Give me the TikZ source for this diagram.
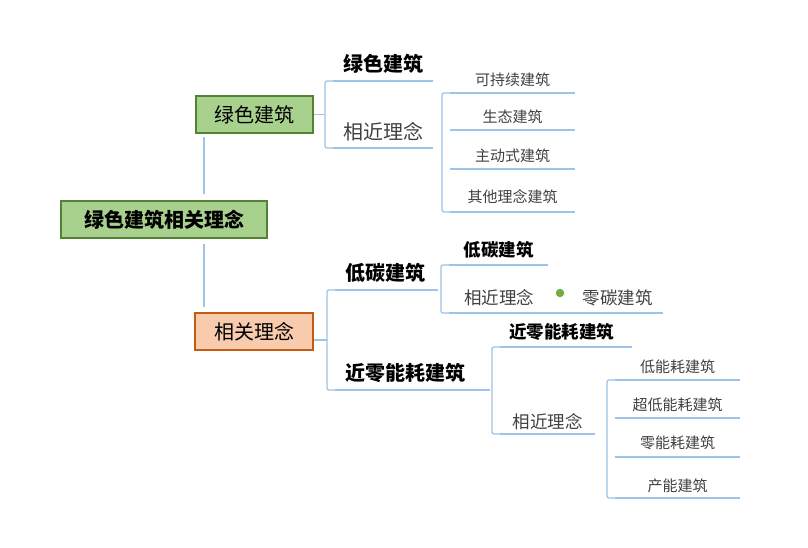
\documentclass[tikz,border=0pt]{standalone}
\usepackage{fontspec}
\setmainfont{Noto Sans CJK SC}
\usetikzlibrary{calc,positioning}
\definecolor{lsfill}{HTML}{A9D18E}
\definecolor{lsdraw}{HTML}{548235}
\definecolor{xgfill}{HTML}{F8CBAD}
\definecolor{xgdraw}{HTML}{C55A11}
\definecolor{lnblue}{HTML}{9DC3E6}
\definecolor{dotgreen}{HTML}{70AD47}
\definecolor{txtgray}{HTML}{404040}

\begin{document}
\begin{tikzpicture}[x=1pt, y=-1pt, conn/.style={draw=lnblue, line width=1.3pt}, box/.style={line width=2pt, inner sep=0pt, minimum height=37pt}]
\tikzstyle{tp}=[anchor=south west, inner sep=0pt, text=txtgray]
\tikzstyle{big}=[tp, text=black, font=\bfseries\fontsize{20}{24}\selectfont, minimum height=34pt]
\tikzstyle{mid}=[tp, font=\fontsize{20}{24}\selectfont, minimum height=32pt]
\tikzstyle{sub}=[tp, text=black, font=\bfseries\fontsize{17.5}{21}\selectfont, minimum height=30pt]
\tikzstyle{subn}=[tp, font=\fontsize{17.5}{21}\selectfont, minimum height=30pt]
\tikzstyle{leaf}=[tp, font=\fontsize{15}{18}\selectfont, minimum width=125pt, minimum height=26pt]
\useasboundingbox (0,0) rectangle (808,548);
% main boxes
\node[box, fill=lsfill, draw=lsdraw, minimum width=206pt, font=\bfseries\fontsize{20}{24}\selectfont] (root) at (164,219.5) {绿色建筑相关理念};
\node[box, fill=lsfill, draw=lsdraw, minimum width=117pt, font=\fontsize{20}{24}\selectfont] (lsjz) at (254.5,114.5) {绿色建筑};
\node[box, fill=xgfill, draw=xgdraw, minimum width=118pt, font=\fontsize{20}{24}\selectfont] (xglb) at (254,331.5) {相关理念};
% upper branch
\node[big, minimum width=100pt] (lsg) at (333,81) {绿色建筑};
\node[mid, minimum width=100pt] (xj1) at (333,148) {相近理念};
\node[leaf] (kcx) at (450,93) {可持续建筑};
\node[leaf] (stj) at (450,130) {生态建筑};
\node[leaf] (zds) at (450,169) {主动式建筑};
\node[leaf, minimum height=30pt] (qtl) at (450,212) {其他理念建筑};
% lower branch
\node[big, text width=83pt, inner xsep=10pt, align=left] (ldt) at (335,290) {低碳建筑};
\node[big, text width=135pt, inner xsep=10pt, align=left] (jln) at (335,390) {近零能耗建筑};
\node[sub, minimum width=99pt] (dtl) at (449,265) {低碳建筑};
\node[subn, minimum width=100pt] (xj2) at (449,313) {相近理念};
\node[circle, fill=dotgreen, inner sep=0pt, minimum size=8.5pt] (dot) at (560,293) {};
\node[subn, minimum width=91pt] (ltj) at (572,313) {零碳建筑};
\node[sub, text width=114pt, inner xsep=9pt, align=left] (jlx) at (500,347) {近零能耗建筑};
\node[subn, minimum width=95pt, minimum height=24pt] (xj3) at (500,434) {相近理念};
\node[leaf] (dnh) at (615,380) {低能耗建筑};
\node[leaf] (cdn) at (615,418) {超低能耗建筑};
\node[leaf, minimum height=28pt] (lnh) at (615,457) {零能耗建筑};
\node[leaf, minimum height=24pt] (cnj) at (615,498) {产能建筑};
% underlines
\foreach \n in {lsg,xj1,kcx,stj,zds,qtl,ldt,jln,dtl,jlx,xj3,dnh,cdn,lnh,cnj}{\draw[conn] (\n.south west) -- (\n.south east);}
\draw[conn] (xj2.south west) -- (ltj.south east);
% brackets
\foreach \a/\b in {lsg/xj1,kcx/qtl,ldt/jln,dtl/xj2,jlx/xj3,dnh/cnj}{\draw[conn, rounded corners=2pt] (\a.south west) -- ++(-8,0) |- (\b.south west);}
\coordinate (m1) at ($(lsg.south west)!.5!(xj1.south west)+(-8,0)$);
\coordinate (m2) at ($(ldt.south west)!.5!(jln.south west)+(-8,0)$);
\draw[conn] (lsjz.east |- m1) -- (m1);
\draw[conn] (xglb.east |- m2) -- (m2);
% root to boxes
\coordinate (r1) at ([xshift=9pt]lsjz.south west);
\coordinate (r2) at ([xshift=10pt]xglb.north west);
\draw[conn, shorten <=3pt, shorten >=6pt] (r1) -- (r1 |- root.north);
\draw[conn, shorten <=5pt, shorten >=5pt] (root.south -| r2) -- (r2);
\end{tikzpicture}
\end{document}
